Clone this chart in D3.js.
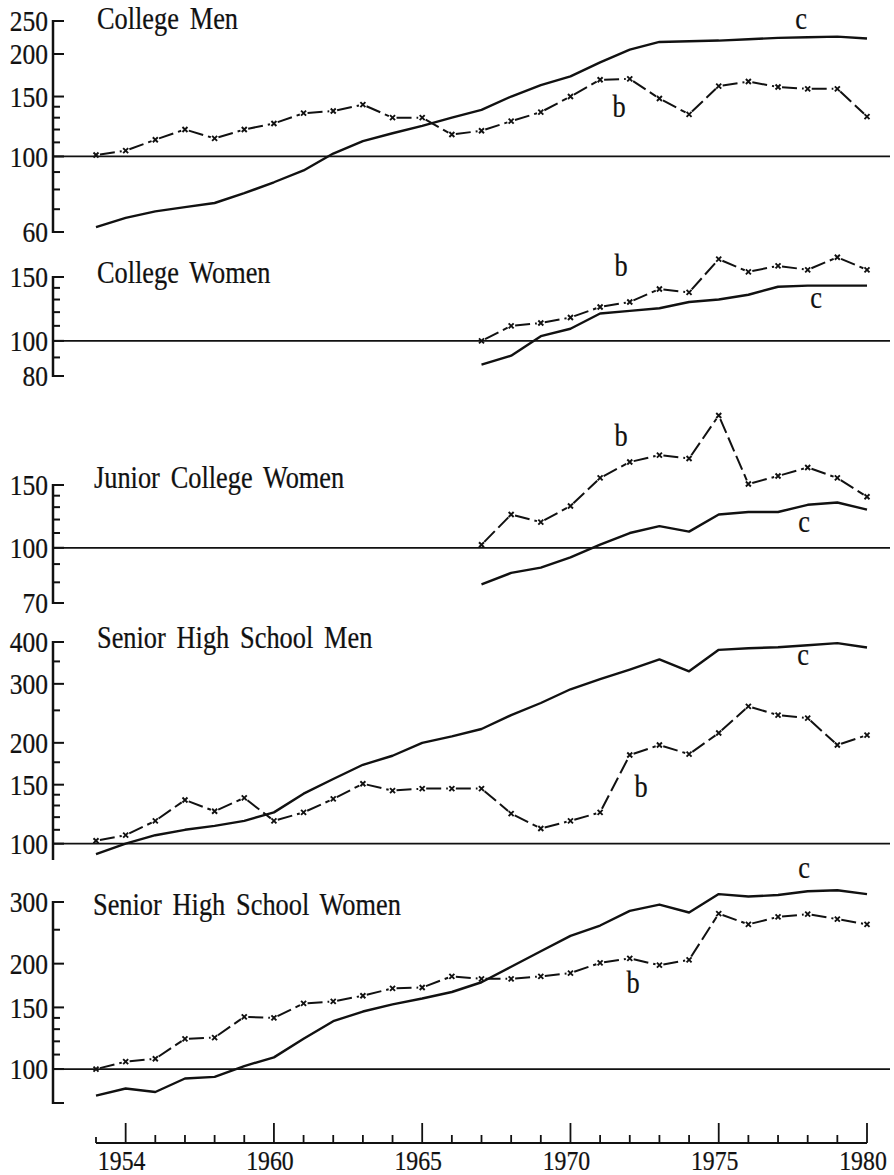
<!DOCTYPE html>
<html>
<head>
<meta charset="utf-8">
<script src="https://cdn.jsdelivr.net/npm/d3@7"></script>
<style>
  html, body { margin: 0; padding: 0; background: #fff; }
  text { font-family: "Liberation Serif", "Times New Roman", serif; fill: #111; stroke: #111; stroke-width: 0.25px; }
</style>
</head>
<body>
<svg id="chart" width="894" height="1175"></svg>
<script>
// years on the common x axis
const years = [1954, 1955, 1956, 1957, 1958, 1959, 1960, 1961, 1962, 1963, 1964, 1965, 1966,
  1967, 1968, 1969, 1970, 1971, 1972, 1973, 1974, 1975, 1976, 1977, 1978, 1979, 1980];
const lateYears = [1967, 1968, 1969, 1970, 1971, 1972, 1973, 1974, 1975, 1976, 1977, 1978, 1979, 1980];

// College Men
const cmB = [101, 104, 112, 120, 113, 120, 125, 134, 136, 142, 130, 130, 116,
  119, 127, 135, 150, 168, 169, 148, 133, 161, 166, 160, 158, 158, 131];
const cmC = [62, 66, 69, 71, 73, 78, 84, 91, 102, 111, 117, 123, 130,
  137, 150, 162, 172, 189, 206, 217, 218, 219, 221, 223, 224, 225, 222];

// College Women (from 1967)
const cwB = [100, 110, 112, 116, 124, 128, 139, 136, 168, 155, 161, 157, 170, 157];
const cwC = [86, 91, 103, 108, 119, 121, 123, 128, 130, 134, 141, 142, 142, 142];

// Junior College Women (from 1967)
const jcB = [102, 124, 118, 131, 157, 174, 182, 178, 235, 151, 159, 168, 157, 139];
const jcC = [79, 85, 88, 94, 102, 110, 115, 111, 124, 126, 126, 132, 134, 128];

// Senior High School Men
const hmB = [102, 106, 117, 135, 125, 137, 117, 124, 136, 151, 144, 146, 146,
  146, 123, 111, 117, 124, 184, 197, 185, 214, 257, 242, 237, 197, 211];
const hmC = [93, 100, 106, 110, 113, 117, 124, 141, 156, 172, 183, 200, 209,
  220, 242, 263, 289, 310, 331, 355, 327, 379, 383, 386, 391, 397, 385];

// Senior High School Women
const hwB = [100, 105, 107, 122, 123, 141, 140, 154, 156, 162, 170, 171, 184,
  181, 181, 184, 188, 201, 207, 198, 205, 278, 259, 272, 277, 268, 259];
const hwC = [84, 88, 86, 94, 95, 102, 108, 122, 137, 146, 153, 159, 166,
  177, 196, 217, 240, 257, 283, 295, 280, 316, 311, 314, 322, 324, 316];

// y ticks / labels per panel
const cmTicks = [250, 200, 150, 140, 130, 120, 110, 100, 90, 80, 70, 60];
const cmLabels = [250, 200, 150, 100, 60];
const cwTicks = [150, 140, 130, 120, 110, 100, 90, 80];
const cwLabels = [150, 100, 80];
const jcTicks = [150, 140, 130, 120, 110, 100, 90, 80, 70];
const jcLabels = [150, 100, 70];
const hmTicks = [400, 350, 300, 250, 200, 175, 150, 140, 130, 120, 110, 100];
const hmLabels = [400, 300, 200, 150, 100];
const hwTicks = [300, 250, 200, 150, 140, 130, 120, 110, 100, 80];
const hwLabels = [300, 200, 150, 100];

// x axis ticks (first long tick is printed as 1954 in the source)
const xMajor = [1955, 1960, 1965, 1970, 1975, 1980];
const xMajorText = ['1954', '1960', '1965', '1970', '1975', '1980'];

const panels = [
  {title: 'College Men', yrs: years, b: cmB, c: cmC, dom: [60, 250], rng: [232, 21],
    ticks: cmTicks, labels: cmLabels, tPos: [97, 29], bPos: [619, 117], cPos: [801, 29]},
  {title: 'College Women', yrs: lateYears, b: cwB, c: cwC, dom: [80, 150], rng: [376, 277],
    ticks: cwTicks, labels: cwLabels, tPos: [97, 283], bPos: [621, 276], cPos: [816, 308]},
  {title: 'Junior College Women', yrs: lateYears, b: jcB, c: jcC, dom: [70, 150], rng: [603, 485],
    ticks: jcTicks, labels: jcLabels, tPos: [94, 488], bPos: [621, 446], cPos: [804, 532]},
  {title: 'Senior High School Men', yrs: years, b: hmB, c: hmC, dom: [90, 400], rng: [859, 642],
    ticks: hmTicks, labels: hmLabels, tPos: [97, 648], bPos: [641, 797], cPos: [803, 665]},
  {title: 'Senior High School Women', yrs: years, b: hwB, c: hwC, dom: [80, 300], rng: [1103, 902],
    ticks: hwTicks, labels: hwLabels, tPos: [93, 915], bPos: [633, 993], cPos: [804, 878]}
];

const svg = d3.select('#chart');
const axisX = 53, refEnd = 890;
const x = d3.scaleLinear().domain([1954, 1980]).range([96, 867]);

// condensed serif text, like the printed original
function txt(sel, px, py, s, anchor, size) {
  return sel.append('text')
    .attr('transform', 'translate(' + px + ',' + py + ') scale(0.85,1)')
    .attr('text-anchor', anchor || 'start')
    .style('font-size', size + 'px')
    .text(s);
}

panels.forEach(function (p) {
  const g = svg.append('g');
  const y = d3.scaleLog().domain(p.dom).range(p.rng);

  // axis spine
  g.append('line')
    .attr('x1', axisX).attr('x2', axisX)
    .attr('y1', y(p.dom[1]) - 1).attr('y2', y(p.dom[0]) + 1)
    .attr('stroke', '#111').attr('stroke-width', 2.5);

  // ticks pointing inward
  g.selectAll('.tick').data(p.ticks).enter().append('line')
    .attr('x1', axisX)
    .attr('x2', function (d) { return axisX + (p.labels.indexOf(d) > -1 || d === p.dom[0] ? 11 : 7); })
    .attr('y1', function (d) { return y(d); })
    .attr('y2', function (d) { return y(d); })
    .attr('stroke', '#111').attr('stroke-width', 2);

  p.labels.forEach(function (d) {
    txt(g, 48, y(d), d, 'end', 30).attr('dy', '0.34em');
  });

  // reference line at 100
  g.append('line')
    .attr('x1', axisX).attr('x2', refEnd)
    .attr('y1', y(100)).attr('y2', y(100))
    .attr('stroke', '#111').attr('stroke-width', 1.8);

  // c: solid line
  const line = d3.line()
    .x(function (d, i) { return x(p.yrs[i]); })
    .y(function (d) { return y(d); });
  g.append('path')
    .datum(p.c)
    .attr('d', line)
    .attr('fill', 'none')
    .attr('stroke', '#111')
    .attr('stroke-width', 2.4)
    .attr('stroke-linejoin', 'round');

  // b: dashed segments between x markers
  const pts = p.b.map(function (d, i) { return [x(p.yrs[i]), y(d)]; });
  for (let i = 0; i < pts.length - 1; i++) {
    const a = pts[i], b = pts[i + 1];
    const dx = b[0] - a[0], dy = b[1] - a[1];
    const len = Math.sqrt(dx * dx + dy * dy);
    const ux = dx / len, uy = dy / len;
    g.append('line')
      .attr('x1', a[0] + ux * 4).attr('y1', a[1] + uy * 4)
      .attr('x2', b[0] - ux * 4).attr('y2', b[1] - uy * 4)
      .attr('stroke', '#111')
      .attr('stroke-width', 2)
      .attr('stroke-dasharray', '15,5');
  }
  g.selectAll('.mark').data(pts).enter().append('path')
    .attr('transform', function (d) { return 'translate(' + d[0] + ',' + d[1] + ')'; })
    .attr('d', 'M-2.5,-2.5L2.5,2.5M-2.5,2.5L2.5,-2.5')
    .attr('stroke', '#111')
    .attr('stroke-width', 1.9);

  txt(g, p.tPos[0], p.tPos[1], p.title, 'start', 31).style('word-spacing', '5px');
  txt(g, p.bPos[0], p.bPos[1], 'b', 'middle', 31);
  txt(g, p.cPos[0], p.cPos[1], 'c', 'middle', 31);
});

// bottom year axis
const base = 1143;
const xa = svg.append('g');
xa.append('line')
  .attr('x1', x(1954)).attr('x2', x(1980))
  .attr('y1', base).attr('y2', base)
  .attr('stroke', '#111').attr('stroke-width', 2);
xa.selectAll('.xt').data(years).enter().append('line')
  .attr('x1', function (d) { return x(d); })
  .attr('x2', function (d) { return x(d); })
  .attr('y1', base)
  .attr('y2', function (d) { return base - (xMajor.indexOf(d) > -1 ? 20 : (d === 1954 ? 6 : 8)); })
  .attr('stroke', '#111').attr('stroke-width', 1.8);
xMajor.forEach(function (d, i) {
  txt(xa, x(d) - 4, 1170, xMajorText[i], 'middle', 28);
});
</script>
</body>
</html>
